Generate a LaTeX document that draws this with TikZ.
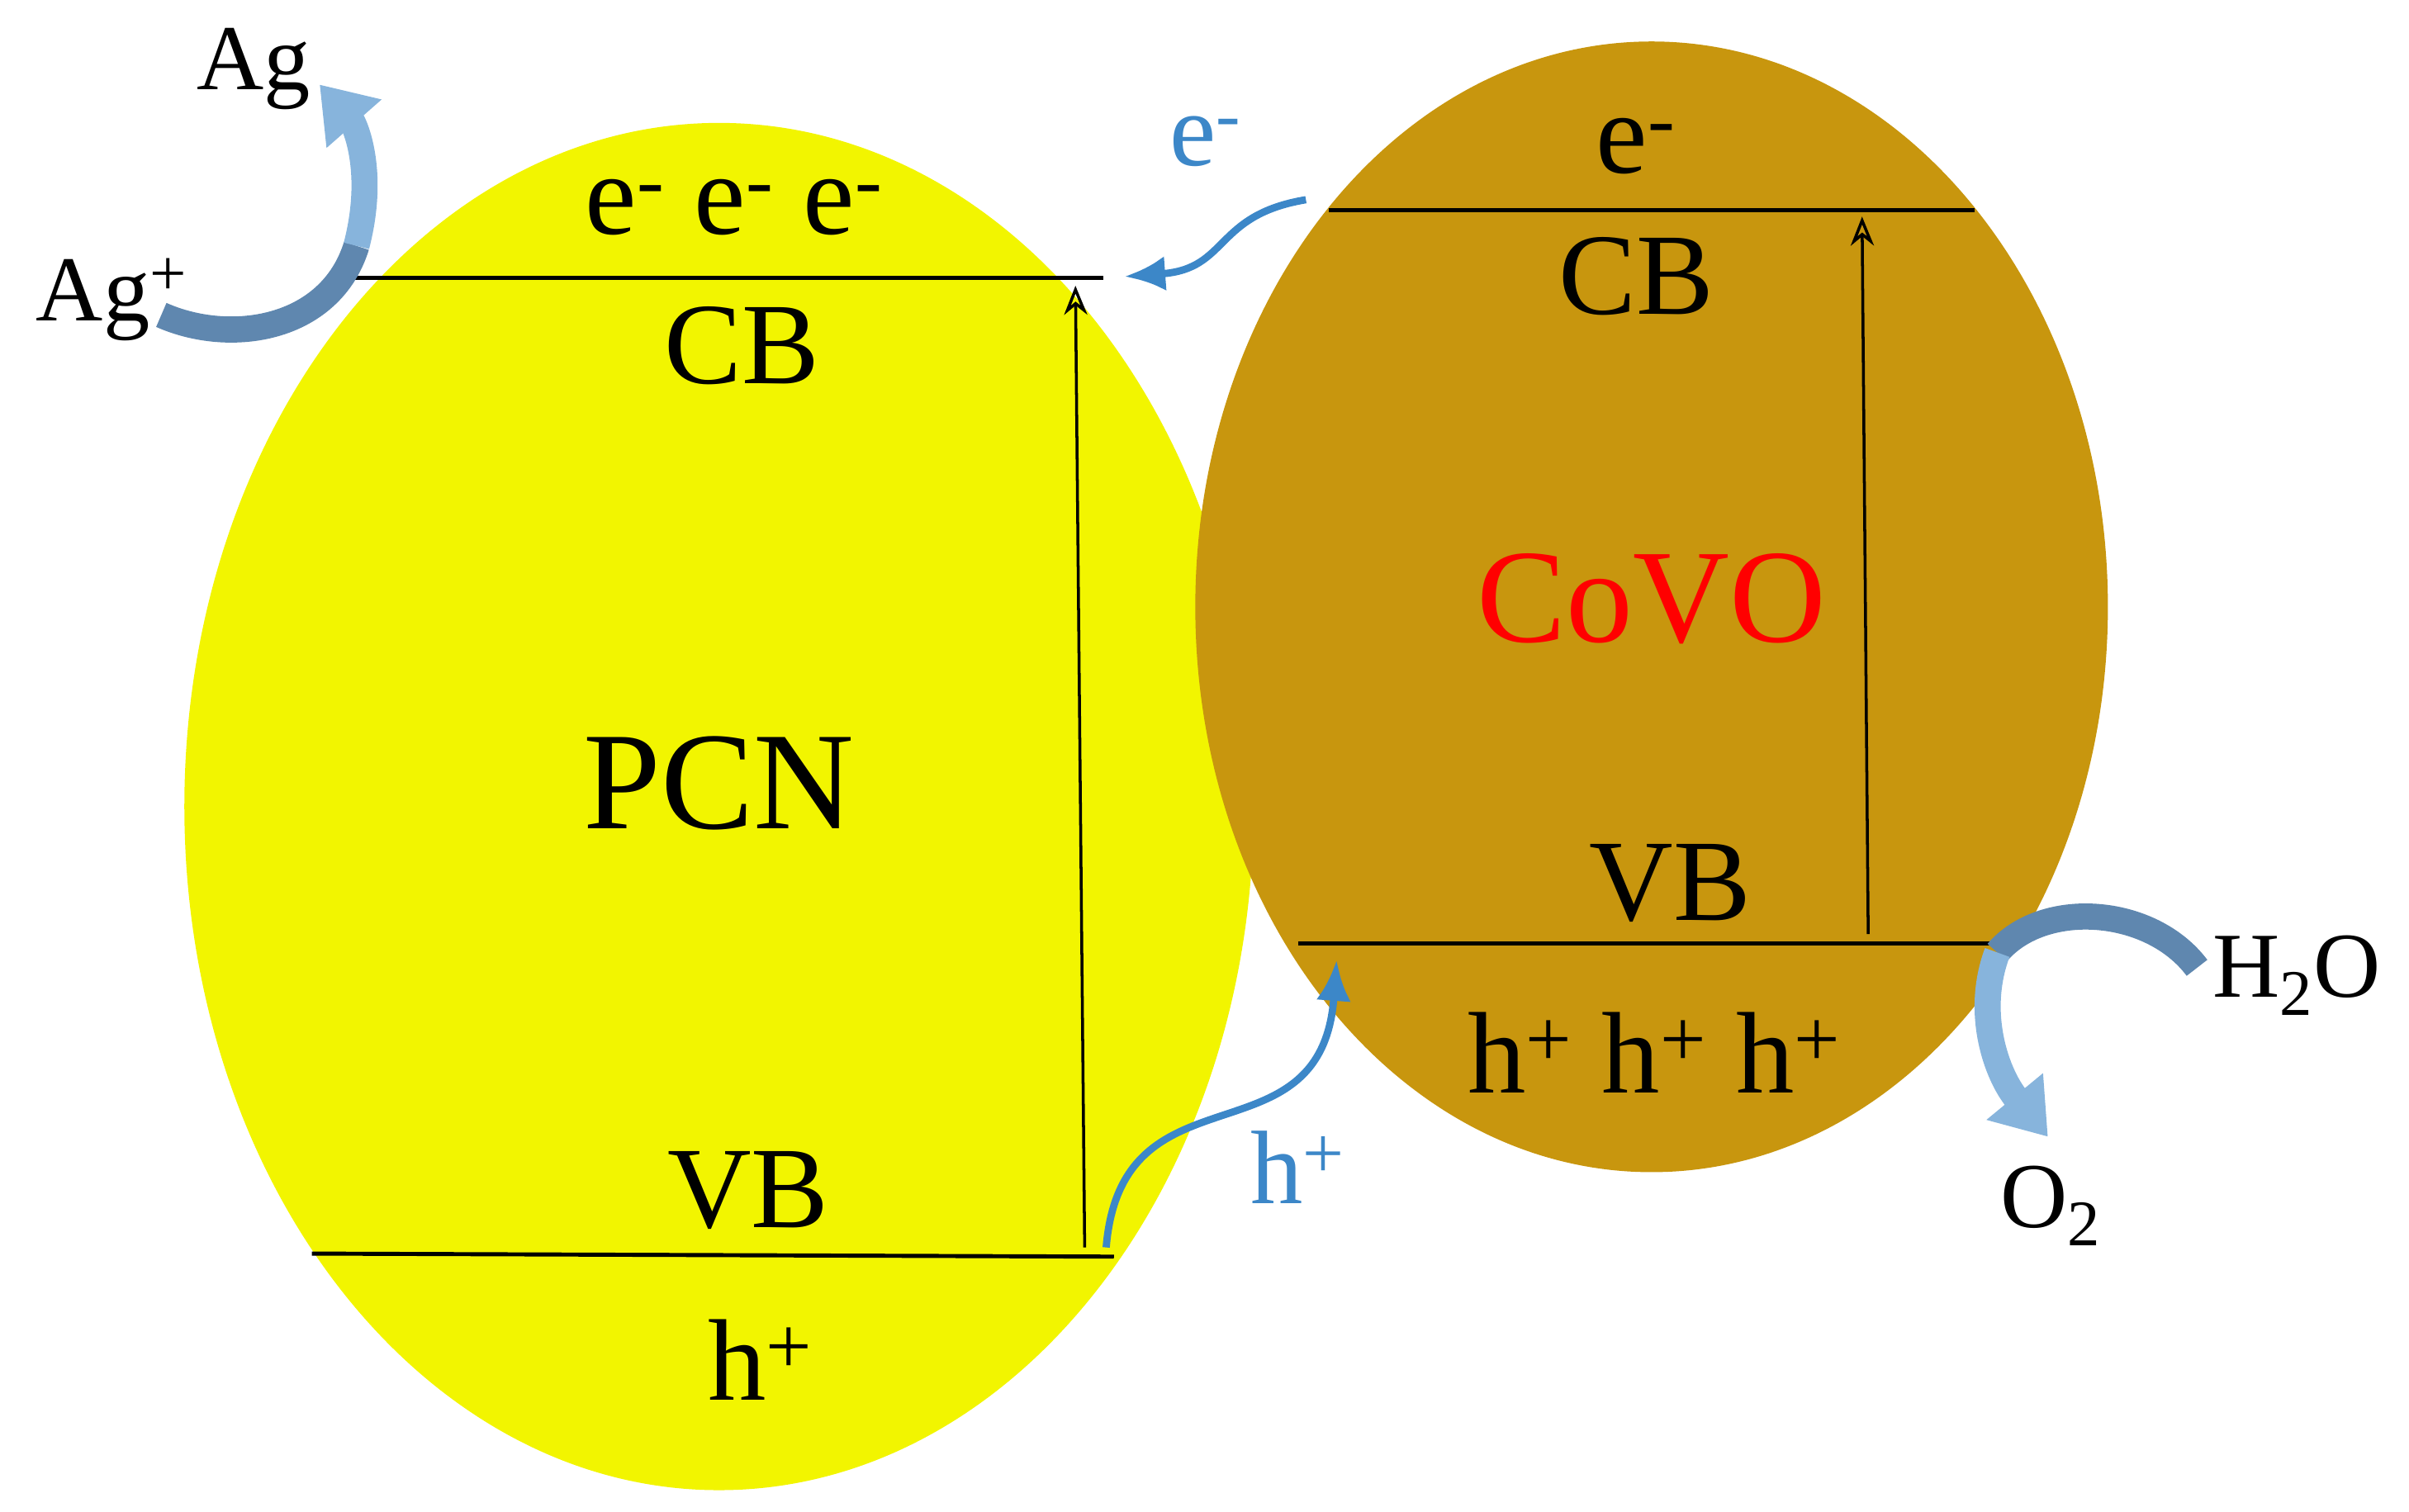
\documentclass[tikz,border=0pt]{standalone}
\usepackage{fontspec}
\setmainfont{Liberation Serif}
\usetikzlibrary{arrows.meta}
\definecolor{pcn}{RGB}{242,245,0}
\definecolor{covo}{RGB}{200,150,14}
\definecolor{lblue}{RGB}{60,135,200}
\definecolor{dkb}{RGB}{95,135,175}
\definecolor{ltb}{RGB}{135,180,220}
\tikzset{
 band/.style={line width=1.4pt},
 exc/.style={line width=1pt,-{Stealth[length=10pt,width=8pt,open]}},
 tx/.style={font=\fontsize{40}{44}\selectfont,inner sep=0},
 bl/.style={font=\fontsize{36}{40}\selectfont,inner sep=0,text=lblue},
 sm/.style={font=\fontsize{32}{36}\selectfont,inner sep=0},
 flow/.style={lblue,line width=2.5pt,-{Latex[length=14pt,width=12pt]}},
}
\begin{document}
\begin{tikzpicture}[x=0.0186cm,y=-0.0186cm]
\useasboundingbox (0,0) rectangle (1568,984);
\fill[pcn] (468,525) ellipse [x radius=348,y radius=445];
\fill[covo] (1075,395) ellipse [x radius=297,y radius=368];
\coordinate (c1a) at (222,181); \coordinate (c1b) at (718,181);
\coordinate (v1a) at (203,816); \coordinate (v1b) at (725,818);
\coordinate (c2a) at (865,137); \coordinate (c2b) at (1285,137);
\coordinate (v2a) at (845,614); \coordinate (v2b) at (1308,614);
\draw[band] (c1a)--(c1b); \draw[band] (v1a)--(v1b);
\draw[band] (c2a)--(c2b); \draw[band] (v2a)--(v2b);
\coordinate (a1) at (706,812); \coordinate (a2) at (700,186);
\draw[exc] (a1)--(a2);
\coordinate (b1) at (1216,608); \coordinate (b2) at (1212,141);
\draw[exc] (b1)--(b2);
\node[tx] (e3) at (478,135) {e\textsuperscript{-} e\textsuperscript{-} e\textsuperscript{-}};
\node[tx] (cb1) at (483,225) {CB};
\node[font=\fontsize{48}{52}\selectfont,inner sep=0] (pcn) at (468,510) {PCN};
\node[tx] (vb1) at (487,775) {VB};
\node[tx] (h1) at (495,885) {h\textsuperscript{+}};
\node[tx] (e1) at (1065,95) {e\textsuperscript{-}};
\node[tx] (cb2) at (1065,180) {CB};
\node[font=\fontsize{46}{50}\selectfont,inner sep=0,text=red] (covo) at (1075,390) {CoVO};
\node[tx] (vb2) at (1087,575) {VB};
\node[tx] (h3) at (1077,685) {h\textsuperscript{+} h\textsuperscript{+} h\textsuperscript{+}};
\node[bl] (be) at (785,92) {e\textsuperscript{-}};
\node[bl] (bh) at (845,760) {h\textsuperscript{+}};
\coordinate (es) at (850,130); \coordinate (ee) at (732,180);
\draw[flow] (es) .. controls (790,140) and (800,175) .. (ee);
\coordinate (hs) at (720,812); \coordinate (he) at (870,625);
\draw[flow] (hs) .. controls (730,690) and (860,760) .. (he);
\node[sm] (ag) at (165,45) {Ag};
\node[sm] (agp) at (73,195) {Ag\textsuperscript{+}};
\coordinate (g1) at (105,205); \coordinate (g2) at (232,160); \coordinate (g3) at (208,55);
\draw[dkb,line width=9pt] (g1) .. controls (150,225) and (215,215) .. (g2);
\draw[ltb,line width=9pt,-{Triangle[length=18pt,width=24pt]}] (g2) .. controls (245,110) and (230,80) .. (g3);
\node[sm] (h2o) at (1495,635) {H\textsubscript{2}O};
\node[sm] (o2) at (1335,785) {O\textsubscript{2}};
\coordinate (w1) at (1430,630); \coordinate (w2) at (1300,620); \coordinate (w3) at (1333,740);
\draw[dkb,line width=9pt] (w1) .. controls (1400,590) and (1330,585) .. (w2);
\draw[ltb,line width=9pt,-{Triangle[length=18pt,width=24pt]}] (w2) .. controls (1285,660) and (1300,700) .. (w3);
\end{tikzpicture}
\end{document}
